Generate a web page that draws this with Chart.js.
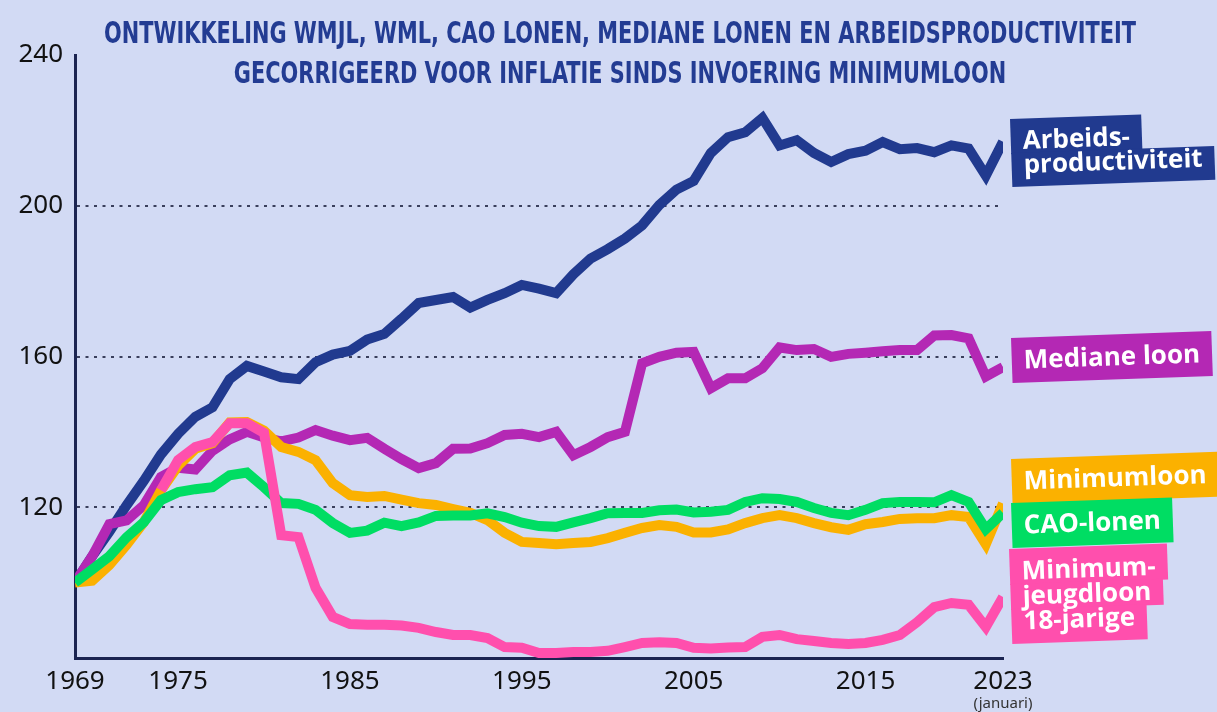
<!DOCTYPE html>
<html><head><meta charset="utf-8">
<script src="https://cdn.jsdelivr.net/npm/chart.js@4.4.1/dist/chart.umd.min.js"></script>
<style>
html,body{margin:0;padding:0;background:#d2daf4;overflow:hidden}
#wrap{position:relative;width:1217px;height:712px}
</style>
</head><body><div id="wrap"><canvas id="c" width="1217" height="712"></canvas></div>
<script>
const years = [1969,1970,1971,1972,1973,1974,1975,1976,1977,1978,1979,1980,1981,1982,1983,1984,1985,1986,1987,1988,1989,1990,1991,1992,1993,1994,1995,1996,1997,1998,1999,2000,2001,2002,2003,2004,2005,2006,2007,2008,2009,2010,2011,2012,2013,2014,2015,2016,2017,2018,2019,2020,2021,2022,2023];
const arbeidsproductiviteit = [100,107,113.5,120.5,127,134,139.5,144,146.5,154,157.5,156,154.5,154,158.5,160.5,161.5,164.5,166,170,174.2,175,175.8,173,175,176.8,179,178,176.8,181.8,186,188.5,191.3,194.8,200.2,204.3,206.6,214,218.2,219.5,223.3,216,217.4,214,211.6,213.7,214.6,216.9,215,215.3,214.2,216,215.2,208,217];
const medianeLoon = [100,107,115.5,116.5,120.5,128,130.5,130,135,138,140,138.5,137.5,138.5,140.5,139,137.8,138.4,135.5,132.8,130.4,131.7,135.5,135.6,137,139.2,139.5,138.6,140,133.8,136,138.6,140,158.2,159.9,161,161.2,151.6,154.2,154.2,156.9,162.4,161.7,162,159.9,160.7,161,161.4,161.7,161.7,165.6,165.7,164.8,154.7,157.2];
const minimumloon = [100,100.5,104.7,110,116,124.5,131,135.5,137,142.5,142.6,140.3,136,134.7,132.5,126.4,123.2,122.7,123,122,121.1,120.6,119.5,118.5,116.6,113.2,110.8,110.5,110.2,110.5,110.8,111.8,113.2,114.5,115.3,114.8,113.3,113.3,114.1,115.8,117.1,117.9,117.1,115.8,114.7,114,115.5,116.1,116.9,117.1,117.1,117.9,117.4,110.2,121];
const caoLonen = [100,103.5,107,112,116,121.9,124,124.8,125.3,128.5,129.2,125.3,121.1,120.9,119.3,115.8,113.2,113.8,115.9,115,116,117.7,117.8,117.8,118.4,117.4,115.9,115,114.8,116,117.1,118.4,118.5,118.5,119.2,119.4,118.6,118.8,119.3,121.4,122.4,122.2,121.4,119.8,118.5,117.9,119.3,121.1,121.4,121.4,121.3,123.2,121.4,114.2,118.5];
const minimumjeugdloon18 = [null,null,null,null,null,124.5,132.5,136,137.3,142.3,142.3,139.7,112.6,112.1,98.6,90.9,89,88.8,88.8,88.6,88,86.9,86.1,86.1,85.3,82.9,82.7,81.3,81.3,81.6,81.6,81.9,82.9,84,84.2,84,82.7,82.5,82.8,82.9,85.6,86.1,85,84.5,84,83.7,84,84.8,86.1,89.5,93.5,94.6,94.1,88.2,96.2];
const xTickYears = [1969,1975,1985,1995,2005,2015,2023];
const yTickValues = [120,160,200,240];
const titleLines = ['ONTWIKKELING WMJL, WML, CAO LONEN, MEDIANE LONEN EN ARBEIDSPRODUCTIVITEIT','GECORRIGEERD VOOR INFLATIE SINDS INVOERING MINIMUMLOON'];
const lastTickNote = '(januari)';
const seriesNames = ['Arbeidsproductiviteit','Mediane loon','Minimumloon','CAO-lonen','Minimumjeugdloon 18-jarige'];
const seriesLabelLines = [['Arbeids-','productiviteit'],['Mediane loon'],['Minimumloon'],['CAO-lonen'],['Minimum-','jeugdloon','18-jarige']];

const C = {navy:'#213a8f', magenta:'#b428b4', orange:'#fbb100', green:'#00dd63', pink:'#ff4fad', axis:'#1b2451', bg:'#d2daf4'};

const labelBoxes = [
  {lines:seriesLabelLines[0], color:C.navy, x:1010, top:119, lh:24},
  {lines:seriesLabelLines[1], color:C.magenta, x:1011, top:338, lh:25},
  {lines:seriesLabelLines[2], color:C.orange, x:1011, top:459, lh:25},
  {lines:seriesLabelLines[3], color:C.green, x:1011, top:503, lh:25},
  {lines:seriesLabelLines[4], color:C.pink, x:1009, top:549, lh:25}
];

const decor = {
  id:'decor',
  beforeDraw(chart){
    const ctx = chart.ctx;
    ctx.save(); ctx.fillStyle = C.bg; ctx.fillRect(0,0,chart.width,chart.height); ctx.restore();
  },
  afterDraw(chart){
    const ctx = chart.ctx;
    ctx.save();
    ctx.fillStyle = '#233c93';
    ctx.font = 'bold 30px "DejaVu Sans Condensed", "DejaVu Sans"';
    const w0 = ctx.measureText(titleLines[0]).width;
    const sx = 1032 / w0;
    const baselines = [43, 83];
    titleLines.forEach((t,i)=>{
      ctx.save();
      ctx.translate(620, baselines[i]);
      ctx.scale(sx, 1);
      ctx.textAlign = 'center';
      ctx.textBaseline = 'alphabetic';
      ctx.fillText(t, 0, 0);
      ctx.restore();
    });
    ctx.restore();
    const xs = chart.scales.x;
    ctx.save();
    ctx.font = '15px "Noto Sans"';
    ctx.fillStyle = '#333';
    ctx.textAlign = 'center';
    ctx.textBaseline = 'alphabetic';
    ctx.fillText(lastTickNote, xs.getPixelForValue(years.length-1), 708);
    ctx.restore();
    labelBoxes.forEach(spec=>{
      ctx.save();
      ctx.font = 'bold 26px "Open Sans"';
      const pv = 10, ph = 12, lh = spec.lh, n = spec.lines.length;
      ctx.translate(spec.x, spec.top);
      ctx.rotate(-2*Math.PI/180);
      ctx.fillStyle = spec.color;
      spec.lines.forEach((t,i)=>{
        const w = ctx.measureText(t).width + 2*ph;
        const y0 = i===0 ? 0 : pv + i*lh;
        const y1 = i===n-1 ? 2*pv + n*lh : pv + (i+1)*lh + 1;
        ctx.fillRect(0, y0, w, y1-y0);
      });
      ctx.fillStyle = '#ffffff';
      ctx.textBaseline = 'middle';
      spec.lines.forEach((t,i)=> ctx.fillText(t, ph, pv + i*lh + lh/2 + 1));
      ctx.restore();
    });
  }
};

const mk = (label, data, color, order) => ({
  label, data, borderColor:color, backgroundColor:color, borderWidth:10,
  pointRadius:0, pointHoverRadius:0, tension:0, fill:false, order,
  borderJoinStyle:'miter', spanGaps:false,
  clip:{left:0, right:0, top:30, bottom:30}
});

new Chart(document.getElementById('c'), {
  type:'line',
  data:{
    labels:years,
    datasets:[
      mk(seriesNames[4], minimumjeugdloon18, C.pink, 1),
      mk(seriesNames[3], caoLonen, C.green, 2),
      mk(seriesNames[2], minimumloon, C.orange, 3),
      mk(seriesNames[1], medianeLoon, C.magenta, 4),
      mk(seriesNames[0], arbeidsproductiviteit, C.navy, 5)
    ]
  },
  options:{
    responsive:false, animation:false, devicePixelRatio:1,
    layout:{padding:{left:0, right:214, top:55, bottom:0}},
    plugins:{legend:{display:false}, title:{display:false}, tooltip:{enabled:false}},
    scales:{
      x:{
        type:'category', offset:false,
        grid:{display:false, drawTicks:false},
        border:{display:true, color:C.axis, width:3},
        ticks:{
          autoSkip:false, maxRotation:0, padding:8,
          color:'#111', font:{family:'"Noto Sans"', size:26},
          callback(v, i){ const y = years[i]; return xTickYears.includes(y) ? String(y) : ''; }
        },
        afterFit(s){ s.height = 54; }
      },
      y:{
        min:80, max:240,
        afterBuildTicks(s){ s.ticks = [80].concat(yTickValues).map(v=>({value:v})); },
        grid:{
          drawTicks:false, lineWidth:2,
          color(ctx){ const v = ctx.tick && ctx.tick.value; return (v===80 || v===240) ? 'rgba(0,0,0,0)' : '#3a3f5c'; }
        },
        border:{display:true, color:C.axis, width:3, dash:[3,5.5]},
        ticks:{
          padding:12, color:'#111', font:{family:'"Noto Sans"', size:26},
          callback(v){ return yTickValues.includes(v) ? String(v) : ''; }
        },
        afterFit(s){ s.width = 75; }
      }
    }
  },
  plugins:[decor]
});
</script>
</body></html>
